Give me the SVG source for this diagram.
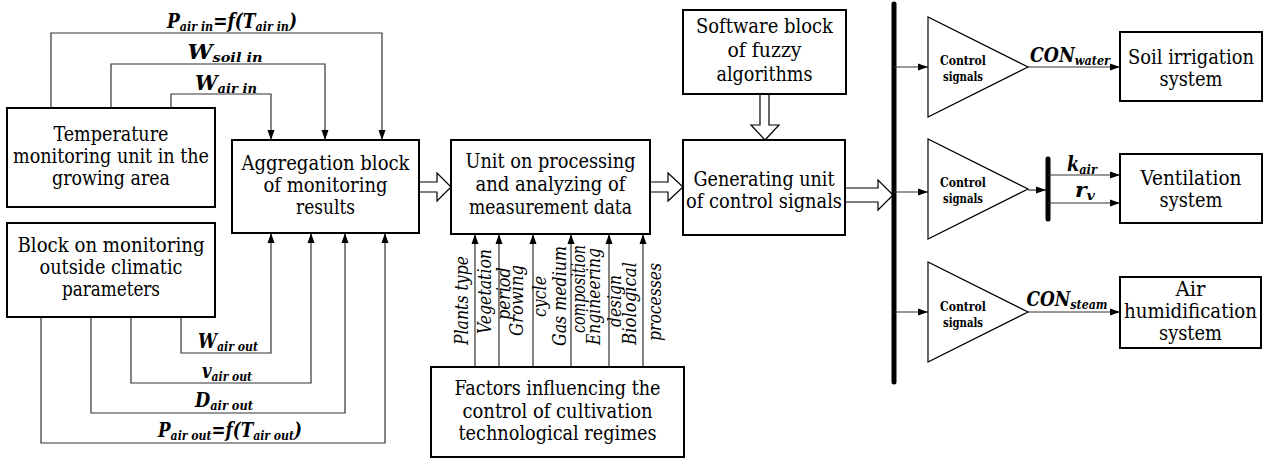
<svg xmlns="http://www.w3.org/2000/svg" width="1264" height="459" viewBox="0 0 1264 459">
<style>
text{font-family:'DejaVu Serif',serif;font-stretch:condensed;fill:#000}
.box{fill:#fff;stroke:#000;stroke-width:2}
.tri{fill:#fff;stroke:#000;stroke-width:1.2}
.t{font-size:20.5px;text-anchor:middle}
.lbl{font-size:20px;font-weight:bold;font-style:italic;text-anchor:middle}
.sub{font-size:13px}
.cs{font-size:13px;font-weight:bold;text-anchor:middle}
.rot{font-size:18px;font-style:italic}
.ca{fill:none;stroke:#333;stroke-width:1.2;marker-end:url(#ah)}
.hol{fill:#fff;stroke:#000;stroke-width:1.2}
.bus{stroke:#000;stroke-width:5;stroke-linecap:round}
</style>
<defs>
<marker id="ah" markerUnits="userSpaceOnUse" markerWidth="11" markerHeight="8" refX="10" refY="4" orient="auto">
<path d="M0,0.5 L10,4 L0,7.5 z" fill="#000"/>
</marker>
</defs>

<g id="connectors">
<polyline class="ca" points="51,108 51,33 382,33 382,140"/>
<polyline class="ca" points="111,108 111,64 325,64 325,140"/>
<polyline class="ca" points="171,108 171,94 271,94 271,140"/>
<polyline class="ca" points="181,317 181,353 271,353 271,233"/>
<polyline class="ca" points="131,317 131,383 311,383 311,233"/>
<polyline class="ca" points="91,317 91,413 345,413 345,233"/>
<polyline class="ca" points="41,317 41,443 385,443 385,233"/>
<line class="ca" x1="475" y1="367" x2="475" y2="234"/>
<line class="ca" x1="499" y1="367" x2="499" y2="234"/>
<line class="ca" x1="533" y1="367" x2="533" y2="234"/>
<line class="ca" x1="571" y1="367" x2="571" y2="234"/>
<line class="ca" x1="609" y1="367" x2="609" y2="234"/>
<line class="ca" x1="643" y1="367" x2="643" y2="234"/>
<path class="hol" d="M419,182 L437,182 L437,173 L451,187 L437,201 L437,192 L419,192 Z"/>
<path class="hol" d="M650,182 L668,182 L668,173 L683,187 L668,201 L668,192 L650,192 Z"/>
<path class="hol" d="M760,94 L769,94 L769,125 L779,125 L765,140 L751,125 L760,125 Z"/>
<path class="hol" d="M845,188 L878,188 L878,180 L893,195 L878,210 L878,202 L845,202 Z"/>
<line class="bus" x1="894" y1="4" x2="894" y2="382"/>
<line class="ca" x1="894" y1="67" x2="928" y2="67"/>
<line class="ca" x1="894" y1="192" x2="928" y2="192"/>
<line class="ca" x1="894" y1="312" x2="928" y2="312"/>
<line class="ca" x1="1028" y1="67" x2="1120" y2="67"/>
<line class="ca" x1="1028" y1="190" x2="1046" y2="190"/>
<line class="bus" x1="1048" y1="159" x2="1048" y2="219"/>
<line class="ca" x1="1048" y1="175" x2="1120" y2="175"/>
<line class="ca" x1="1048" y1="203" x2="1120" y2="203"/>
<line class="ca" x1="1028" y1="312" x2="1120" y2="312"/>
<text class="lbl" x="232" y="28" textLength="130" lengthAdjust="spacingAndGlyphs">P<tspan class="sub" dy="3">air in</tspan><tspan dy="-3">=f(T</tspan><tspan class="sub" dy="3">air in</tspan><tspan dy="-3">)</tspan></text>
<text class="lbl" x="225" y="59" textLength="75" lengthAdjust="spacingAndGlyphs">W<tspan class="sub" dy="3">soil in</tspan></text>
<text class="lbl" x="226" y="90" textLength="62" lengthAdjust="spacingAndGlyphs">W<tspan class="sub" dy="3">air in</tspan></text>
<text class="lbl" x="228" y="348" textLength="60" lengthAdjust="spacingAndGlyphs">W<tspan class="sub" dy="3">air out</tspan></text>
<text class="lbl" x="227" y="378" textLength="50" lengthAdjust="spacingAndGlyphs">v<tspan class="sub" dy="3">air out</tspan></text>
<text class="lbl" x="224" y="407" textLength="58" lengthAdjust="spacingAndGlyphs">D<tspan class="sub" dy="3">air out</tspan></text>
<text class="lbl" x="230" y="437" textLength="144" lengthAdjust="spacingAndGlyphs">P<tspan class="sub" dy="3">air out</tspan><tspan dy="-3">=f(T</tspan><tspan class="sub" dy="3">air out</tspan><tspan dy="-3">)</tspan></text>
<text class="lbl" x="1070" y="62" textLength="80" lengthAdjust="spacingAndGlyphs">CON<tspan class="sub" dy="3">water</tspan></text>
<text class="lbl" x="1082" y="171" textLength="30" lengthAdjust="spacingAndGlyphs">k<tspan class="sub" dy="3">air</tspan></text>
<text class="lbl" x="1085" y="197" textLength="20" lengthAdjust="spacingAndGlyphs">r<tspan class="sub" dy="3">v</tspan></text>
<text class="lbl" x="1067" y="306" textLength="81" lengthAdjust="spacingAndGlyphs">CON<tspan class="sub" dy="3">steam</tspan></text>
<text class="rot" transform="translate(468,345) rotate(-90)" textLength="89" lengthAdjust="spacingAndGlyphs">Plants type</text>
<text class="rot" transform="translate(491,334) rotate(-90)" textLength="85" lengthAdjust="spacingAndGlyphs">Vegetation</text>
<text class="rot" transform="translate(510,320) rotate(-90)" textLength="53" lengthAdjust="spacingAndGlyphs">period</text>
<text class="rot" transform="translate(523,336) rotate(-90)" textLength="71" lengthAdjust="spacingAndGlyphs">Growing</text>
<text class="rot" transform="translate(546,317) rotate(-90)" textLength="41" lengthAdjust="spacingAndGlyphs">cycle</text>
<text class="rot" transform="translate(566,346) rotate(-90)" textLength="100" lengthAdjust="spacingAndGlyphs">Gas medium</text>
<text class="rot" transform="translate(585,333) rotate(-90)" textLength="88" lengthAdjust="spacingAndGlyphs">composition</text>
<text class="rot" transform="translate(600,345) rotate(-90)" textLength="97" lengthAdjust="spacingAndGlyphs">Engineering</text>
<text class="rot" transform="translate(621,327) rotate(-90)" textLength="52" lengthAdjust="spacingAndGlyphs">design</text>
<text class="rot" transform="translate(636,345) rotate(-90)" textLength="83" lengthAdjust="spacingAndGlyphs">Biological</text>
<text class="rot" transform="translate(661,341) rotate(-90)" textLength="78" lengthAdjust="spacingAndGlyphs">processes</text>
</g>

<g id="temp-unit">
<rect class="box" x="7" y="108" width="208" height="99"/>
<text class="t" x="111" y="141" textLength="115" lengthAdjust="spacingAndGlyphs">Temperature</text>
<text class="t" x="111" y="163" textLength="196" lengthAdjust="spacingAndGlyphs">monitoring unit in the</text>
<text class="t" x="111" y="185" textLength="118" lengthAdjust="spacingAndGlyphs">growing area</text>
</g>
<g id="outside-block">
<rect class="box" x="7" y="223" width="208" height="94"/>
<text class="t" x="111" y="252" textLength="187" lengthAdjust="spacingAndGlyphs">Block on monitoring</text>
<text class="t" x="111" y="274" textLength="143" lengthAdjust="spacingAndGlyphs">outside climatic</text>
<text class="t" x="111" y="296" textLength="98" lengthAdjust="spacingAndGlyphs">parameters</text>
</g>
<g id="aggregation">
<rect class="box" x="232" y="140" width="187" height="93"/>
<text class="t" x="325.5" y="170" textLength="168" lengthAdjust="spacingAndGlyphs">Aggregation block</text>
<text class="t" x="325.5" y="192" textLength="124" lengthAdjust="spacingAndGlyphs">of monitoring</text>
<text class="t" x="325.5" y="214" textLength="59" lengthAdjust="spacingAndGlyphs">results</text>
</g>
<g id="processing">
<rect class="box" x="451" y="140" width="199" height="94"/>
<text class="t" x="550.5" y="168" textLength="170" lengthAdjust="spacingAndGlyphs">Unit on processing</text>
<text class="t" x="550.5" y="191" textLength="150" lengthAdjust="spacingAndGlyphs">and analyzing of</text>
<text class="t" x="550.5" y="214" textLength="163" lengthAdjust="spacingAndGlyphs">measurement data</text>
</g>
<g id="factors">
<rect class="box" x="431" y="367" width="253" height="90"/>
<text class="t" x="557.5" y="395" textLength="206" lengthAdjust="spacingAndGlyphs">Factors influencing the</text>
<text class="t" x="557.5" y="418" textLength="190" lengthAdjust="spacingAndGlyphs">control of cultivation</text>
<text class="t" x="557.5" y="440" textLength="198" lengthAdjust="spacingAndGlyphs">technological regimes</text>
</g>
<g id="software">
<rect class="box" x="683" y="10" width="163" height="84"/>
<text class="t" x="764.5" y="33" textLength="137" lengthAdjust="spacingAndGlyphs">Software block</text>
<text class="t" x="764.5" y="57" textLength="74" lengthAdjust="spacingAndGlyphs">of fuzzy</text>
<text class="t" x="764.5" y="81" textLength="96" lengthAdjust="spacingAndGlyphs">algorithms</text>
</g>
<g id="generating">
<rect class="box" x="683" y="140" width="162" height="95"/>
<text class="t" x="764" y="186" textLength="141" lengthAdjust="spacingAndGlyphs">Generating unit</text>
<text class="t" x="764" y="208" textLength="156" lengthAdjust="spacingAndGlyphs">of control signals</text>
</g>
<g id="control1">
<polygon class="tri" points="928,17 928,117 1028,67"/>
<text class="cs" x="963" y="65" textLength="46" lengthAdjust="spacingAndGlyphs">Control</text>
<text class="cs" x="963" y="81" textLength="40" lengthAdjust="spacingAndGlyphs">signals</text>
</g>
<g id="control2">
<polygon class="tri" points="928,139 928,239 1028,189"/>
<text class="cs" x="963" y="187" textLength="46" lengthAdjust="spacingAndGlyphs">Control</text>
<text class="cs" x="963" y="203" textLength="40" lengthAdjust="spacingAndGlyphs">signals</text>
</g>
<g id="control3">
<polygon class="tri" points="928,262 928,362 1028,312"/>
<text class="cs" x="963" y="311" textLength="46" lengthAdjust="spacingAndGlyphs">Control</text>
<text class="cs" x="963" y="327" textLength="40" lengthAdjust="spacingAndGlyphs">signals</text>
</g>
<g id="soil-irrigation">
<rect class="box" x="1120" y="32" width="142" height="69"/>
<text class="t" x="1191" y="64" textLength="126" lengthAdjust="spacingAndGlyphs">Soil irrigation</text>
<text class="t" x="1191" y="86" textLength="63" lengthAdjust="spacingAndGlyphs">system</text>
</g>
<g id="ventilation">
<rect class="box" x="1120" y="154" width="142" height="69"/>
<text class="t" x="1191" y="185" textLength="101" lengthAdjust="spacingAndGlyphs">Ventilation</text>
<text class="t" x="1191" y="207" textLength="63" lengthAdjust="spacingAndGlyphs">system</text>
</g>
<g id="humidification">
<rect class="box" x="1120" y="277" width="141" height="71"/>
<text class="t" x="1190.5" y="296" textLength="30" lengthAdjust="spacingAndGlyphs">Air</text>
<text class="t" x="1190.5" y="318" textLength="133" lengthAdjust="spacingAndGlyphs">humidification</text>
<text class="t" x="1190.5" y="340" textLength="63" lengthAdjust="spacingAndGlyphs">system</text>
</g>
</svg>
